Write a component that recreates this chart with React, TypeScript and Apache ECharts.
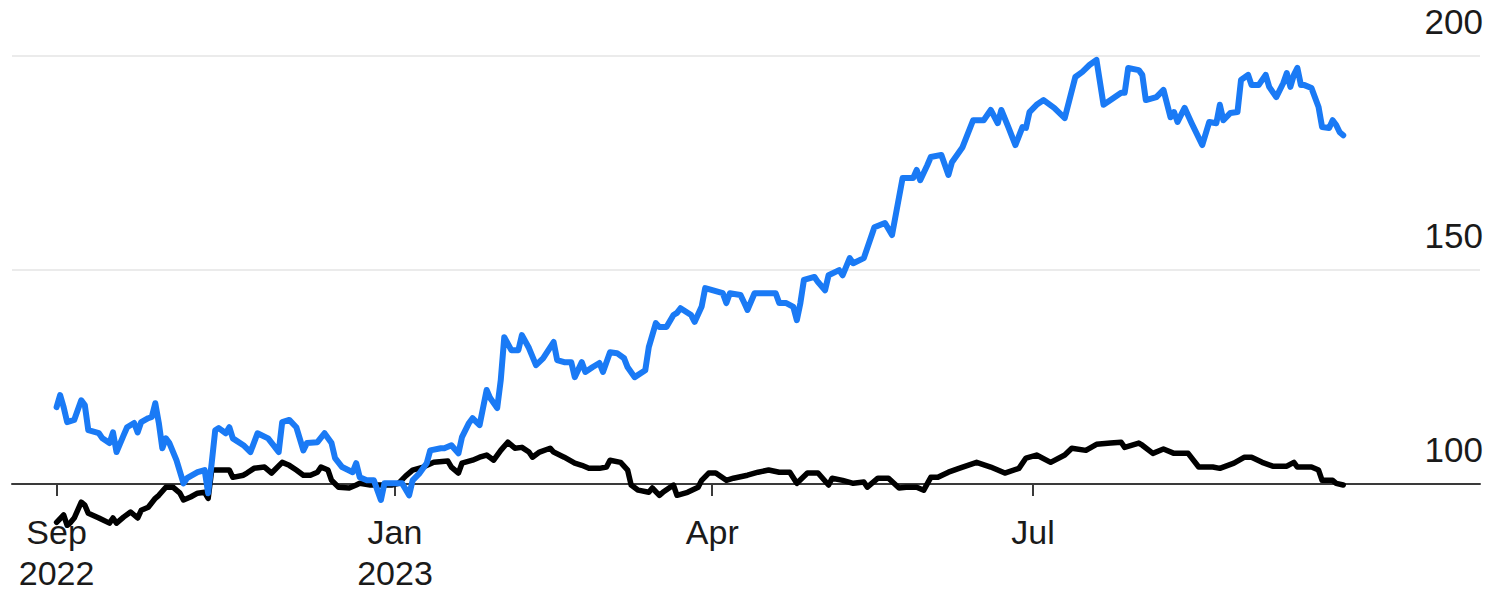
import React, { useEffect, useRef } from "react";
import * as echarts from "echarts";

const blueDates = [
  "2022-09-27","2022-09-28","2022-09-29","2022-09-30","2022-10-02","2022-10-03","2022-10-04","2022-10-05","2022-10-06","2022-10-09",
  "2022-10-10","2022-10-12","2022-10-13","2022-10-14","2022-10-16","2022-10-17","2022-10-19","2022-10-20","2022-10-21","2022-10-23",
  "2022-10-24","2022-10-25","2022-10-26","2022-10-27","2022-10-28","2022-10-29","2022-10-31","2022-11-02","2022-11-03","2022-11-06",
  "2022-11-08","2022-11-09","2022-11-10","2022-11-11","2022-11-12","2022-11-14","2022-11-15","2022-11-16","2022-11-19","2022-11-21",
  "2022-11-23","2022-11-26","2022-11-28","2022-11-29","2022-11-30","2022-12-02","2022-12-04","2022-12-06","2022-12-07","2022-12-10",
  "2022-12-12","2022-12-14","2022-12-15","2022-12-17","2022-12-20","2022-12-21","2022-12-22","2022-12-24","2022-12-26","2022-12-27",
  "2022-12-28","2022-12-29","2022-12-31","2023-01-03","2023-01-05","2023-01-06","2023-01-08","2023-01-10","2023-01-11","2023-01-14",
  "2023-01-15","2023-01-17","2023-01-19","2023-01-20","2023-01-22","2023-01-23","2023-01-25","2023-01-27","2023-01-28","2023-01-30",
  "2023-01-31","2023-02-01","2023-02-03","2023-02-05","2023-02-06","2023-02-08","2023-02-10","2023-02-12","2023-02-15","2023-02-16",
  "2023-02-18","2023-02-20","2023-02-21","2023-02-23","2023-02-24","2023-02-26","2023-02-28","2023-03-01","2023-03-03","2023-03-05",
  "2023-03-07","2023-03-08","2023-03-10","2023-03-13","2023-03-14","2023-03-16","2023-03-17","2023-03-19","2023-03-21","2023-03-22",
  "2023-03-23","2023-03-26","2023-03-27","2023-03-29","2023-03-30","2023-04-01","2023-04-04","2023-04-05","2023-04-06","2023-04-09",
  "2023-04-10","2023-04-11","2023-04-13","2023-04-16","2023-04-19","2023-04-20","2023-04-22","2023-04-24","2023-04-25","2023-04-26",
  "2023-04-27","2023-04-30","2023-05-01","2023-05-03","2023-05-04","2023-05-07","2023-05-08","2023-05-10","2023-05-11","2023-05-14",
  "2023-05-17","2023-05-20","2023-05-22","2023-05-25","2023-05-28","2023-05-29","2023-05-30","2023-06-01","2023-06-02","2023-06-05",
  "2023-06-07","2023-06-08","2023-06-11","2023-06-14","2023-06-17","2023-06-19","2023-06-21","2023-06-22","2023-06-24","2023-06-26",
  "2023-06-28","2023-06-29","2023-06-30","2023-07-02","2023-07-04","2023-07-07","2023-07-10","2023-07-13","2023-07-15","2023-07-17",
  "2023-07-19","2023-07-21","2023-07-23","2023-07-26","2023-07-27","2023-07-28","2023-07-31","2023-08-01","2023-08-02","2023-08-05",
  "2023-08-07","2023-08-09","2023-08-10","2023-08-11","2023-08-13","2023-08-15","2023-08-18","2023-08-20","2023-08-22","2023-08-23",
  "2023-08-24","2023-08-26","2023-08-28","2023-08-29","2023-08-31","2023-09-01","2023-09-03","2023-09-05","2023-09-06","2023-09-08",
  "2023-09-10","2023-09-11","2023-09-12","2023-09-13","2023-09-14","2023-09-15","2023-09-16","2023-09-18","2023-09-20","2023-09-21",
  "2023-09-23","2023-09-24","2023-09-25","2023-09-26","2023-09-27"
];
const blueValues = [
  118.0,120.8,118.0,114.5,115.0,117.3,119.6,118.5,112.6,111.9,
  110.7,109.6,112.1,107.5,111.4,113.3,114.3,112.1,114.5,115.4,
  115.7,118.9,114.3,108.4,110.7,109.6,105.6,100.2,101.4,102.8,
  103.3,97.9,104.9,112.6,113.1,111.9,113.3,110.7,109.1,107.5,
  111.9,110.7,108.6,107.5,114.5,115.0,113.3,107.9,109.6,109.8,
  111.9,109.6,106.1,104.0,102.8,104.9,101.6,100.9,100.9,98.6,
  96.3,100.2,100.2,100.2,97.4,100.9,102.6,104.9,107.9,108.4,
  108.4,109.1,107.2,111.0,114.3,115.4,113.8,122.0,120.1,117.8,
  124.3,134.3,131.3,131.3,134.8,131.8,127.8,129.4,133.2,129.0,
  128.5,128.5,125.0,128.5,126.2,127.3,128.3,126.2,130.8,130.6,
  129.4,127.3,125.0,126.6,132.0,137.6,136.7,136.7,139.5,140.0,
  141.1,139.5,137.9,141.5,145.8,145.3,144.6,142.3,144.6,144.2,
  142.5,140.7,144.6,144.6,144.6,142.3,142.3,141.4,138.3,142.3,
  147.7,148.4,147.2,145.3,148.8,150.0,148.8,152.8,151.6,152.8,
  160.0,161.0,158.2,171.5,171.5,173.4,171.0,174.5,176.4,176.9,
  172.2,175.2,178.7,185.0,185.0,187.4,184.3,187.4,183.4,179.2,
  183.4,183.2,186.9,188.6,189.7,187.9,185.5,195.1,196.3,197.9,
  199.1,188.6,189.7,191.4,191.4,197.2,196.7,195.6,189.7,190.4,
  192.1,185.7,186.9,184.6,187.9,184.3,179.2,184.6,184.3,188.6,
  185.0,186.7,186.9,194.4,195.6,193.2,193.2,195.6,192.8,190.4,
  193.7,196.0,192.8,195.6,197.2,193.2,193.2,192.5,188.1,183.4,
  183.2,185.0,183.9,182.2,181.5
];

const blackDates = [
  "2022-09-27","2022-09-29","2022-09-30","2022-10-01","2022-10-02","2022-10-04","2022-10-05","2022-10-06","2022-10-09","2022-10-12",
  "2022-10-13","2022-10-14","2022-10-16","2022-10-18","2022-10-20","2022-10-21","2022-10-23","2022-10-25","2022-10-26","2022-10-28",
  "2022-10-30","2022-11-01","2022-11-02","2022-11-04","2022-11-06","2022-11-08","2022-11-09","2022-11-10","2022-11-12","2022-11-15",
  "2022-11-16","2022-11-19","2022-11-20","2022-11-22","2022-11-25","2022-11-26","2022-11-27","2022-11-30","2022-12-02","2022-12-04",
  "2022-12-06","2022-12-08","2022-12-10","2022-12-11","2022-12-13","2022-12-14","2022-12-16","2022-12-19","2022-12-21","2022-12-22",
  "2022-12-25","2022-12-28","2022-12-31","2023-01-02","2023-01-04","2023-01-06","2023-01-09","2023-01-12","2023-01-16","2023-01-17",
  "2023-01-19","2023-01-20","2023-01-23","2023-01-25","2023-01-27","2023-01-29","2023-01-31","2023-02-02","2023-02-04","2023-02-06",
  "2023-02-08","2023-02-09","2023-02-11","2023-02-14","2023-02-15","2023-02-18","2023-02-21","2023-02-23","2023-02-25","2023-02-28",
  "2023-03-02","2023-03-03","2023-03-06","2023-03-08","2023-03-09","2023-03-11","2023-03-14","2023-03-15","2023-03-17","2023-03-18",
  "2023-03-21","2023-03-22","2023-03-25","2023-03-28","2023-03-29","2023-03-31","2023-04-02","2023-04-05","2023-04-07","2023-04-11",
  "2023-04-14","2023-04-17","2023-04-20","2023-04-23","2023-04-25","2023-04-28","2023-05-01","2023-05-04","2023-05-05","2023-05-08",
  "2023-05-11","2023-05-14","2023-05-15","2023-05-18","2023-05-21","2023-05-24","2023-05-26","2023-05-29","2023-05-31","2023-06-02",
  "2023-06-04","2023-06-07","2023-06-10","2023-06-15","2023-06-19","2023-06-23","2023-06-27","2023-06-29","2023-07-02","2023-07-06",
  "2023-07-10","2023-07-12","2023-07-16","2023-07-19","2023-07-23","2023-07-26","2023-07-27","2023-07-31","2023-08-01","2023-08-04",
  "2023-08-07","2023-08-10","2023-08-14","2023-08-17","2023-08-21","2023-08-23","2023-08-27","2023-08-30","2023-09-01","2023-09-04",
  "2023-09-07","2023-09-11","2023-09-13","2023-09-14","2023-09-18","2023-09-20","2023-09-21","2023-09-24","2023-09-25","2023-09-27"
];
const blackValues = [
  91.1,92.8,90.4,91.1,92.1,95.8,95.1,93.2,92.1,90.9,
  92.1,90.9,92.3,93.5,92.1,93.9,94.6,96.7,97.4,99.3,
  99.3,97.9,96.3,97.0,97.9,98.1,96.7,103.3,103.3,103.3,
  101.6,102.1,102.6,103.7,104.0,103.3,102.6,105.1,104.4,103.3,
  102.1,102.1,102.8,104.0,103.3,100.9,99.3,99.1,99.8,100.2,
  99.8,99.8,99.8,100.2,101.9,103.3,104.0,105.1,105.4,104.0,
  102.6,104.9,105.6,106.3,106.8,105.6,107.9,109.8,108.4,108.6,
  107.5,106.3,107.5,108.4,107.5,106.3,104.9,104.4,103.7,103.7,
  104.0,105.6,105.1,103.3,99.8,98.6,98.1,99.1,97.4,98.1,
  99.8,97.4,98.1,99.3,100.9,102.6,102.6,100.9,101.4,102.1,
  102.8,103.3,102.8,102.8,100.2,102.6,102.6,99.8,101.4,100.9,
  100.2,100.5,99.3,101.4,101.4,99.1,99.3,99.3,98.6,101.6,
  101.6,102.8,103.7,105.1,104.0,102.6,103.7,106.1,106.8,105.1,
  106.8,108.4,107.9,109.3,109.6,109.8,108.6,109.6,109.1,107.2,
  108.2,107.2,107.2,104.0,104.0,103.7,104.9,106.3,106.3,105.1,
  104.2,104.2,105.1,104.0,104.0,103.3,100.9,100.9,100.2,99.8
];

const xTickDates = ["2022-09-27", "2023-01-01", "2023-04-01", "2023-07-01"];
const monthNames = ["Jan","Feb","Mar","Apr","May","Jun","Jul","Aug","Sep","Oct","Nov","Dec"];
const yTicks = [100, 150, 200];

const FONT = "'Liberation Sans', Arial, Helvetica, sans-serif";
const DAY = 86400000;
const ts = (s: string) => Date.parse(s + "T00:00:00Z");

export default function App() {
  const ref = useRef<HTMLDivElement>(null);
  useEffect(() => {
    if (!ref.current) return;
    const chart = echarts.init(ref.current, null, { renderer: "svg" });
    const xMin = Date.UTC(2022, 8, 14, 8, 24);
    const xMax = Date.UTC(2023, 10, 4, 19, 12);
    const tickValues = xTickDates.map(ts);
    const firstTick = tickValues[0];
    const fmt = (value: number) => {
      const d = new Date(value);
      const m = d.getUTCMonth();
      const name = monthNames[m];
      if (m === 0 || Math.abs(value - firstTick) < DAY) {
        return "{m|" + name + "}\n{y|" + d.getUTCFullYear() + "}";
      }
      return "{m|" + name + "}";
    };
    chart.setOption({
      animation: false,
      backgroundColor: "#ffffff",
      grid: [
        { left: 12, right: 11, top: 56, bottom: 64, containLabel: false, outerBoundsMode: "none" },
        { left: 12, right: 11, top: 56, bottom: 107, containLabel: false, outerBoundsMode: "none" },
      ],
      xAxis: [
        { type: "value", gridIndex: 0, min: xMin, max: xMax, show: false },
        {
          type: "value",
          gridIndex: 1,
          min: xMin,
          max: xMax,
          axisLine: { show: true, lineStyle: { color: "#3a3a3a", width: 2 } },
          axisTick: {
            show: true,
            length: 12,
            lineStyle: { color: "#3a3a3a", width: 2 },
            customValues: tickValues,
          },
          axisLabel: {
            show: true,
            customValues: tickValues,
            formatter: fmt,
            color: "#1a1a1a",
            fontSize: 34,
            fontFamily: FONT,
            margin: 21,
            align: "center",
            verticalAlign: "top",
            rich: {
              m: { fontSize: 34, fontFamily: FONT, color: "#1a1a1a", lineHeight: 53 },
              y: { fontSize: 34, fontFamily: FONT, color: "#1a1a1a", lineHeight: 30 },
            },
          },
          splitLine: { show: false },
        },
      ],
      yAxis: [
        { type: "value", gridIndex: 0, min: 90, max: 200, show: false },
        {
          type: "value",
          gridIndex: 1,
          position: "right",
          min: 100,
          max: 200,
          interval: 50,
          axisLine: { show: false },
          axisTick: { show: false },
          axisLabel: {
            show: true,
            inside: true,
            margin: -3,
            color: "#1a1a1a",
            fontSize: 35,
            fontFamily: FONT,
            verticalAlign: "bottom",
            lineHeight: 35,
            padding: [0, 0, 17, 0],
            formatter: (v: number) => (yTicks.indexOf(v) >= 0 ? String(v) : ""),
          },
          splitLine: {
            show: true,
            showMinLine: false,
            lineStyle: { color: "#ebebeb", width: 2 },
          },
        },
      ],
      series: [
        {
          type: "line",
          name: "Index",
          xAxisIndex: 0,
          yAxisIndex: 0,
          data: blackDates.map((d, i) => [ts(d), blackValues[i]]),
          showSymbol: false,
          symbol: "none",
          lineStyle: { color: "#000000", width: 5.5, join: "round", cap: "round" },
          z: 3,
        },
        {
          type: "line",
          name: "Stock",
          xAxisIndex: 0,
          yAxisIndex: 0,
          data: blueDates.map((d, i) => [ts(d), blueValues[i]]),
          showSymbol: false,
          symbol: "none",
          lineStyle: { color: "#1a7af5", width: 6, join: "round", cap: "round" },
          z: 4,
        },
      ],
    });
    return () => chart.dispose();
  }, []);
  return (
    <div
      ref={ref}
      style={{ position: "fixed", left: 0, top: 0, width: 1491, height: 591, background: "#fff" }}
    />
  );
}
